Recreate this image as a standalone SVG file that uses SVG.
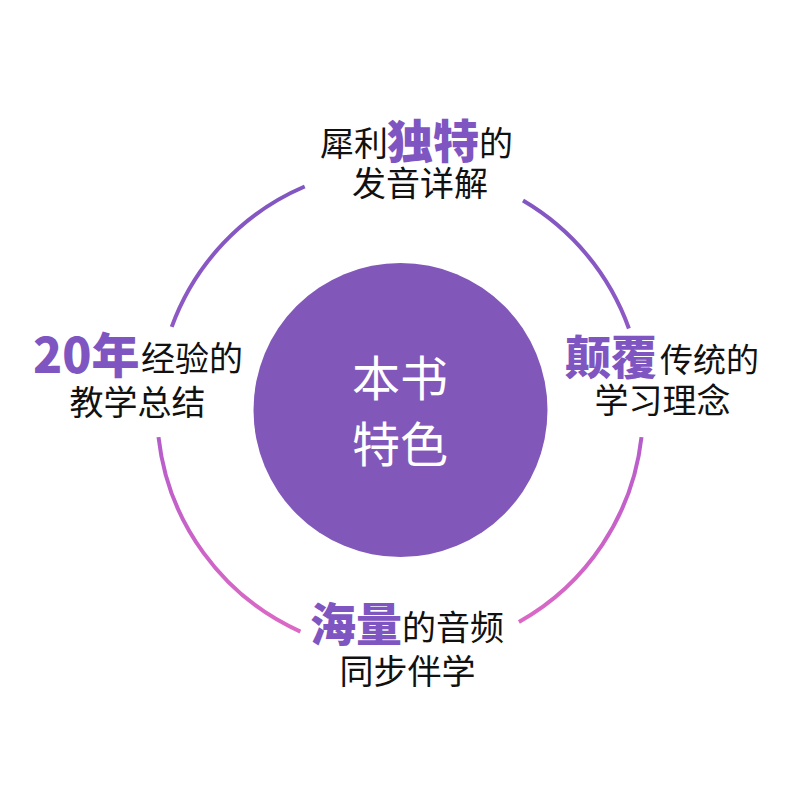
<svg xmlns="http://www.w3.org/2000/svg" width="800" height="800" viewBox="0 0 800 800">
<style>
.t{font-family:"Noto Sans CJK SC","Noto Sans",sans-serif;fill:#111;font-size:34px}
.b{font-family:"Noto Sans CJK SC","Noto Sans",sans-serif;font-weight:900;fill:#7f56c1;font-size:46px}
.m{text-anchor:middle}
.c{font-family:"Noto Sans CJK SC","Noto Sans",sans-serif;fill:#fff;font-size:48px;text-anchor:middle}
.arc{fill:none;stroke:url(#g);stroke-width:4;stroke-linecap:butt}
</style>
<defs>
<linearGradient id="g" gradientUnits="userSpaceOnUse" x1="0" y1="167" x2="0" y2="653">
<stop offset="0" stop-color="#7f56c1"/>
<stop offset="0.4" stop-color="#9259c6"/>
<stop offset="0.6" stop-color="#bb5ecb"/>
<stop offset="1" stop-color="#e06ac4"/>
</linearGradient>
</defs>
<rect width="800" height="800" fill="#fff"/>
<g id="connectors">
<path class="arc" d="M523,200.5 A243,243 0 0 1 628.9,328.5"/>
<path class="arc" d="M641.5,437.1 A243,243 0 0 1 518.9,621.9"/>
<path class="arc" d="M300.4,631.6 A243,243 0 0 1 158.5,437.1"/>
<path class="arc" d="M171.7,326.9 A243,243 0 0 1 304.7,186.5"/>
</g>
<g id="center">
<circle cx="400.5" cy="410" r="147" fill="#8157b9"/>
<text class="c" x="400" y="396">本书</text>
<text class="c" x="400" y="462">特色</text>
</g>
<g id="top">
<text class="t" x="320" y="156">犀利</text>
<text class="b" x="387" y="158">独特</text>
<text class="t" x="479" y="156">的</text>
<text class="t m" x="420" y="196">发音详解</text>
</g>
<g id="left">
<text class="b" x="33" y="373" style="font-size:48px">20年</text>
<text class="t" x="141" y="371">经验的</text>
<text class="t m" x="137.5" y="415">教学总结</text>
</g>
<g id="right">
<text class="b" x="565" y="374">颠覆</text>
<text class="t" x="660" y="372" style="font-size:33px">传统的</text>
<text class="t m" x="662.5" y="413">学习理念</text>
</g>
<g id="bottom">
<text class="b" x="310" y="641">海量</text>
<text class="t" x="402" y="640">的音频</text>
<text class="t m" x="407.5" y="684">同步伴学</text>
</g>
</svg>
